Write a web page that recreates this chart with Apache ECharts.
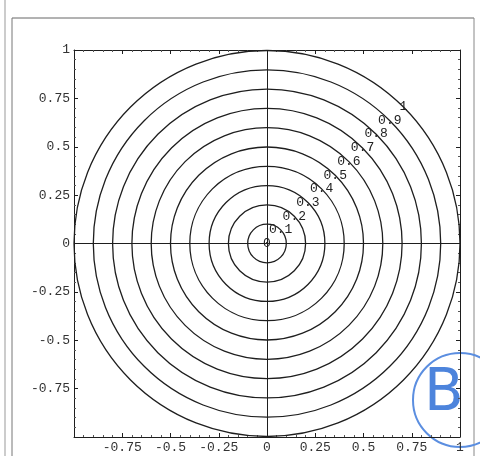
<!DOCTYPE html>
<html>
<head>
<meta charset="utf-8">
<script src="https://cdn.jsdelivr.net/npm/echarts@6/dist/echarts.min.js"></script>
<style>
  html, body { margin: 0; padding: 0; background: #fff; }
  #chart { width: 480px; height: 456px; }
</style>
</head>
<body>
<div id="chart"></div>
<script>
// contour levels of r = sqrt(x^2 + y^2)
var levels = [0, 0.1, 0.2, 0.3, 0.4, 0.5, 0.6, 0.7, 0.8, 0.9, 1.0];
var levelLabels = ['0', '0.1', '0.2', '0.3', '0.4', '0.5', '0.6', '0.7', '0.8', '0.9', '1'];

// frame tick labels
var xTickValues = [-0.75, -0.5, -0.25, 0, 0.25, 0.5, 0.75, 1];
var xTickLabels = ['-0.75', '-0.5', '-0.25', '0', '0.25', '0.5', '0.75', '1'];
var yTickValues = [-0.75, -0.5, -0.25, 0, 0.25, 0.5, 0.75, 1];
var yTickLabels = ['-0.75', '-0.5', '-0.25', '0', '0.25', '0.5', '0.75', '1'];

var mono = '"Liberation Mono", "DejaVu Sans Mono", monospace';
var ink = '#1e1e1e';

function pickLabel(values, labels) {
  return function (v) {
    for (var i = 0; i < values.length; i++) {
      if (Math.abs(values[i] - v) < 1e-9) return labels[i];
    }
    return '';
  };
}

function frameAxis(pos, showLabel, values, labels) {
  return {
    type: 'value',
    position: pos,
    min: -1,
    max: 1,
    interval: 0.25,
    axisLine: { show: true, onZero: false, lineStyle: { color: ink, width: 1 } },
    axisTick: { show: true, inside: true, length: 4, lineStyle: { color: ink } },
    minorTick: { show: true, splitNumber: 5, length: 2, lineStyle: { color: '#555' } },
    splitLine: { show: false },
    axisLabel: showLabel ? {
      show: true,
      margin: 4,
      showMinLabel: true,
      showMaxLabel: true,
      color: '#333',
      fontFamily: mono,
      fontSize: 13,
      formatter: pickLabel(values, labels)
    } : { show: false }
  };
}

var chart = echarts.init(document.getElementById('chart'));
chart.setOption({
  animation: false,
  backgroundColor: '#fff',
  grid: { left: 74, right: 20, top: 50, bottom: 19, show: false },
  xAxis: [
    frameAxis('bottom', true, xTickValues, xTickLabels),
    frameAxis('top', false)
  ],
  yAxis: [
    frameAxis('left', true, yTickValues, yTickLabels),
    frameAxis('right', false)
  ],
  graphic: [
    // scanned page border
    { type: 'line', shape: { x1: 12, y1: 18, x2: 474, y2: 18 }, style: { stroke: '#666', lineWidth: 1 } },
    { type: 'line', shape: { x1: 12, y1: 18, x2: 12, y2: 456 }, style: { stroke: '#777', lineWidth: 1 } },
    { type: 'line', shape: { x1: 5, y1: 0, x2: 5, y2: 456 }, style: { stroke: '#999', lineWidth: 1 } },
    { type: 'line', shape: { x1: 474, y1: 18, x2: 474, y2: 456 }, style: { stroke: '#888', lineWidth: 1 } },
    // handwritten mark
    { type: 'circle', shape: { cx: 460, cy: 400, r: 47 }, style: { fill: 'none', stroke: '#5b8ee0', lineWidth: 2 } },
    { type: 'text', x: 424, y: 366, style: { text: 'B', font: '58px "DejaVu Sans"', fill: '#4d84dc' } }
  ],
  series: [
    {
      type: 'custom',
      coordinateSystem: 'cartesian2d',
      data: levels.map(function (r, i) { return [r, i]; }),
      renderItem: function (params, api) {
        var r = api.value(0);
        var c = api.coord([0, 0]);
        var rad = api.size([r, 0])[0];
        var p = api.coord([r * Math.SQRT1_2, r * Math.SQRT1_2]);
        var children = [];
        if (r > 0) {
          children.push({
            type: 'circle',
            shape: { cx: c[0], cy: c[1], r: rad },
            style: { fill: 'none', stroke: ink, lineWidth: 1.3 }
          });
        }
        children.push({
          type: 'text',
          x: p[0],
          y: p[1],
          style: {
            text: levelLabels[api.value(1)],
            fill: '#222',
            font: '13px ' + mono,
            align: 'center',
            verticalAlign: 'middle'
          },
          z2: 10
        });
        return { type: 'group', children: children };
      },
      markLine: {
        silent: true,
        symbol: 'none',
        label: { show: false },
        lineStyle: { color: ink, type: 'solid', width: 1 },
        data: [{ xAxis: 0 }, { yAxis: 0 }]
      }
    }
  ]
});
</script>
</body>
</html>
